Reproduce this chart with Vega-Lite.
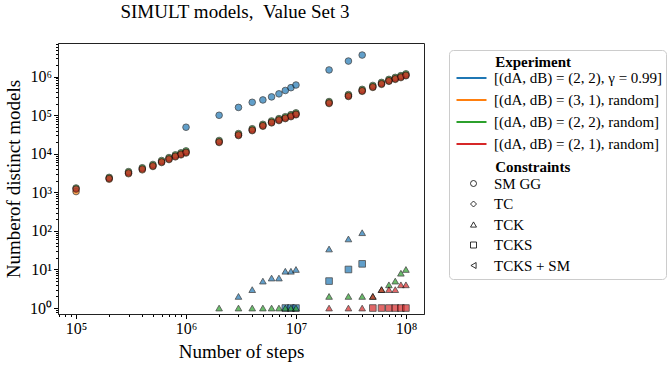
{
  "$schema": "https://vega.github.io/schema/vega-lite/v6.json",
  "width": 366,
  "height": 271,
  "autosize": {"type": "none"},
  "padding": {"left": 58, "top": 43, "right": 248, "bottom": 53},
  "title": {"text": "SIMULT models, \u00a0Value Set 3", "fontSize": 19, "fontWeight": "normal", "anchor": "middle", "offset": 14, "dx": -6, "color": "black"},
  "config": {
    "font": "Liberation Serif",
    "view": {"stroke": "#222", "strokeWidth": 1}
  },
  "data": {"values": [
    {"s": 1e6, "e": "A", "c": "SM GG", "n": 49000},
    {"s": 2e6, "e": "A", "c": "SM GG", "n": 100000},
    {"s": 3e6, "e": "A", "c": "SM GG", "n": 160000},
    {"s": 4e6, "e": "A", "c": "SM GG", "n": 217000},
    {"s": 5e6, "e": "A", "c": "SM GG", "n": 250000},
    {"s": 6e6, "e": "A", "c": "SM GG", "n": 300000},
    {"s": 7e6, "e": "A", "c": "SM GG", "n": 360000},
    {"s": 8e6, "e": "A", "c": "SM GG", "n": 440000},
    {"s": 9e6, "e": "A", "c": "SM GG", "n": 520000},
    {"s": 1e7, "e": "A", "c": "SM GG", "n": 610000},
    {"s": 2e7, "e": "A", "c": "SM GG", "n": 1500000},
    {"s": 3e7, "e": "A", "c": "SM GG", "n": 2550000},
    {"s": 4e7, "e": "A", "c": "SM GG", "n": 3650000},
    {"s": 3e6, "e": "A", "c": "TCK", "n": 2},
    {"s": 4e6, "e": "A", "c": "TCK", "n": 3},
    {"s": 5e6, "e": "A", "c": "TCK", "n": 5},
    {"s": 6e6, "e": "A", "c": "TCK", "n": 6},
    {"s": 7e6, "e": "A", "c": "TCK", "n": 6},
    {"s": 8e6, "e": "A", "c": "TCK", "n": 9},
    {"s": 9e6, "e": "A", "c": "TCK", "n": 9},
    {"s": 1e7, "e": "A", "c": "TCK", "n": 10},
    {"s": 2e7, "e": "A", "c": "TCK", "n": 34},
    {"s": 3e7, "e": "A", "c": "TCK", "n": 62},
    {"s": 4e7, "e": "A", "c": "TCK", "n": 90},
    {"s": 8e6, "e": "A", "c": "TCKS", "n": 1},
    {"s": 9e6, "e": "A", "c": "TCKS", "n": 1},
    {"s": 1e7, "e": "A", "c": "TCKS", "n": 1},
    {"s": 2e7, "e": "A", "c": "TCKS", "n": 5},
    {"s": 3e7, "e": "A", "c": "TCKS", "n": 10},
    {"s": 4e7, "e": "A", "c": "TCKS", "n": 14},

    {"s": 1e5, "e": "B", "c": "SM GG", "n": 1050},
    {"s": 2e5, "e": "B", "c": "SM GG", "n": 2200},
    {"s": 3e5, "e": "B", "c": "SM GG", "n": 3050},
    {"s": 4e5, "e": "B", "c": "SM GG", "n": 3850},
    {"s": 5e5, "e": "B", "c": "SM GG", "n": 4700},
    {"s": 6e5, "e": "B", "c": "SM GG", "n": 5950},
    {"s": 7e5, "e": "B", "c": "SM GG", "n": 7100},
    {"s": 8e5, "e": "B", "c": "SM GG", "n": 8350},
    {"s": 9e5, "e": "B", "c": "SM GG", "n": 9400},
    {"s": 1e6, "e": "B", "c": "SM GG", "n": 10500},
    {"s": 2e6, "e": "B", "c": "SM GG", "n": 19700},
    {"s": 3e6, "e": "B", "c": "SM GG", "n": 29800},
    {"s": 4e6, "e": "B", "c": "SM GG", "n": 40000},
    {"s": 5e6, "e": "B", "c": "SM GG", "n": 52000},
    {"s": 6e6, "e": "B", "c": "SM GG", "n": 63500},
    {"s": 7e6, "e": "B", "c": "SM GG", "n": 73000},
    {"s": 8e6, "e": "B", "c": "SM GG", "n": 82000},
    {"s": 9e6, "e": "B", "c": "SM GG", "n": 92000},
    {"s": 1e7, "e": "B", "c": "SM GG", "n": 103000},
    {"s": 2e7, "e": "B", "c": "SM GG", "n": 202000},
    {"s": 3e7, "e": "B", "c": "SM GG", "n": 308000},
    {"s": 4e7, "e": "B", "c": "SM GG", "n": 418000},
    {"s": 5e7, "e": "B", "c": "SM GG", "n": 528000},
    {"s": 6e7, "e": "B", "c": "SM GG", "n": 635000},
    {"s": 7e7, "e": "B", "c": "SM GG", "n": 760000},
    {"s": 8e7, "e": "B", "c": "SM GG", "n": 855000},
    {"s": 9e7, "e": "B", "c": "SM GG", "n": 950000},
    {"s": 1e8, "e": "B", "c": "SM GG", "n": 1060000},

    {"s": 1e5, "e": "C", "c": "SM GG", "n": 1300},
    {"s": 2e5, "e": "C", "c": "SM GG", "n": 2450},
    {"s": 3e5, "e": "C", "c": "SM GG", "n": 3450},
    {"s": 4e5, "e": "C", "c": "SM GG", "n": 4350},
    {"s": 5e5, "e": "C", "c": "SM GG", "n": 5300},
    {"s": 6e5, "e": "C", "c": "SM GG", "n": 6700},
    {"s": 7e5, "e": "C", "c": "SM GG", "n": 8000},
    {"s": 8e5, "e": "C", "c": "SM GG", "n": 9400},
    {"s": 9e5, "e": "C", "c": "SM GG", "n": 10600},
    {"s": 1e6, "e": "C", "c": "SM GG", "n": 11900},
    {"s": 2e6, "e": "C", "c": "SM GG", "n": 22200},
    {"s": 3e6, "e": "C", "c": "SM GG", "n": 33500},
    {"s": 4e6, "e": "C", "c": "SM GG", "n": 44800},
    {"s": 5e6, "e": "C", "c": "SM GG", "n": 58300},
    {"s": 6e6, "e": "C", "c": "SM GG", "n": 71300},
    {"s": 7e6, "e": "C", "c": "SM GG", "n": 82000},
    {"s": 8e6, "e": "C", "c": "SM GG", "n": 91800},
    {"s": 9e6, "e": "C", "c": "SM GG", "n": 103700},
    {"s": 1e7, "e": "C", "c": "SM GG", "n": 115600},
    {"s": 2e7, "e": "C", "c": "SM GG", "n": 227000},
    {"s": 3e7, "e": "C", "c": "SM GG", "n": 345600},
    {"s": 4e7, "e": "C", "c": "SM GG", "n": 470000},
    {"s": 5e7, "e": "C", "c": "SM GG", "n": 594000},
    {"s": 6e7, "e": "C", "c": "SM GG", "n": 713000},
    {"s": 7e7, "e": "C", "c": "SM GG", "n": 853000},
    {"s": 8e7, "e": "C", "c": "SM GG", "n": 961000},
    {"s": 9e7, "e": "C", "c": "SM GG", "n": 1069000},
    {"s": 1e8, "e": "C", "c": "SM GG", "n": 1188000},
    {"s": 2e6, "e": "C", "c": "TCK", "n": 1},
    {"s": 3e6, "e": "C", "c": "TCK", "n": 1},
    {"s": 4e6, "e": "C", "c": "TCK", "n": 1},
    {"s": 5e6, "e": "C", "c": "TCK", "n": 1},
    {"s": 6e6, "e": "C", "c": "TCK", "n": 1},
    {"s": 7e6, "e": "C", "c": "TCK", "n": 1},
    {"s": 8e6, "e": "C", "c": "TCK", "n": 1},
    {"s": 9e6, "e": "C", "c": "TCK", "n": 1},
    {"s": 1e7, "e": "C", "c": "TCK", "n": 1},
    {"s": 2e7, "e": "C", "c": "TCK", "n": 2},
    {"s": 3e7, "e": "C", "c": "TCK", "n": 2},
    {"s": 4e7, "e": "C", "c": "TCK", "n": 2},
    {"s": 5e7, "e": "C", "c": "TCK", "n": 2},
    {"s": 6e7, "e": "C", "c": "TCK", "n": 3},
    {"s": 7e7, "e": "C", "c": "TCK", "n": 4},
    {"s": 8e7, "e": "C", "c": "TCK", "n": 5},
    {"s": 9e7, "e": "C", "c": "TCK", "n": 8},
    {"s": 1e8, "e": "C", "c": "TCK", "n": 10},

    {"s": 1e5, "e": "D", "c": "SM GG", "n": 1220},
    {"s": 2e5, "e": "D", "c": "SM GG", "n": 2300},
    {"s": 3e5, "e": "D", "c": "SM GG", "n": 3200},
    {"s": 4e5, "e": "D", "c": "SM GG", "n": 4050},
    {"s": 5e5, "e": "D", "c": "SM GG", "n": 4900},
    {"s": 6e5, "e": "D", "c": "SM GG", "n": 6200},
    {"s": 7e5, "e": "D", "c": "SM GG", "n": 7400},
    {"s": 8e5, "e": "D", "c": "SM GG", "n": 8700},
    {"s": 9e5, "e": "D", "c": "SM GG", "n": 9800},
    {"s": 1e6, "e": "D", "c": "SM GG", "n": 11000},
    {"s": 2e6, "e": "D", "c": "SM GG", "n": 20500},
    {"s": 3e6, "e": "D", "c": "SM GG", "n": 31000},
    {"s": 4e6, "e": "D", "c": "SM GG", "n": 41500},
    {"s": 5e6, "e": "D", "c": "SM GG", "n": 54000},
    {"s": 6e6, "e": "D", "c": "SM GG", "n": 66000},
    {"s": 7e6, "e": "D", "c": "SM GG", "n": 76000},
    {"s": 8e6, "e": "D", "c": "SM GG", "n": 85000},
    {"s": 9e6, "e": "D", "c": "SM GG", "n": 96000},
    {"s": 1e7, "e": "D", "c": "SM GG", "n": 107000},
    {"s": 2e7, "e": "D", "c": "SM GG", "n": 210000},
    {"s": 3e7, "e": "D", "c": "SM GG", "n": 320000},
    {"s": 4e7, "e": "D", "c": "SM GG", "n": 435000},
    {"s": 5e7, "e": "D", "c": "SM GG", "n": 550000},
    {"s": 6e7, "e": "D", "c": "SM GG", "n": 660000},
    {"s": 7e7, "e": "D", "c": "SM GG", "n": 790000},
    {"s": 8e7, "e": "D", "c": "SM GG", "n": 890000},
    {"s": 9e7, "e": "D", "c": "SM GG", "n": 990000},
    {"s": 1e8, "e": "D", "c": "SM GG", "n": 1100000},
    {"s": 2e7, "e": "D", "c": "TCK", "n": 1},
    {"s": 3e7, "e": "D", "c": "TCK", "n": 1},
    {"s": 4e7, "e": "D", "c": "TCK", "n": 1},
    {"s": 5e7, "e": "D", "c": "TCK", "n": 2},
    {"s": 6e7, "e": "D", "c": "TCK", "n": 3},
    {"s": 7e7, "e": "D", "c": "TCK", "n": 3},
    {"s": 8e7, "e": "D", "c": "TCK", "n": 3},
    {"s": 9e7, "e": "D", "c": "TCK", "n": 4},
    {"s": 1e8, "e": "D", "c": "TCK", "n": 4},
    {"s": 5e7, "e": "D", "c": "TCKS", "n": 1},
    {"s": 6e7, "e": "D", "c": "TCKS", "n": 1},
    {"s": 7e7, "e": "D", "c": "TCKS", "n": 1},
    {"s": 8e7, "e": "D", "c": "TCKS", "n": 1},
    {"s": 9e7, "e": "D", "c": "TCKS", "n": 1},
    {"s": 1e8, "e": "D", "c": "TCKS", "n": 1}
  ]},
  "mark": {"type": "point", "filled": true, "opacity": 0.7, "stroke": "black", "strokeWidth": 0.8, "size": 44},
  "encoding": {
    "x": {
      "field": "s", "type": "quantitative",
      "scale": {"type": "log", "domain": [68500, 146000000], "nice": false},
      "axis": {
        "title": "Number of steps", "titleFontSize": 19, "titleFontWeight": "normal", "titleColor": "black", "titlePadding": 6,
        "values": [70000, 80000, 90000, 100000, 200000, 300000, 400000, 500000, 600000, 700000, 800000, 900000, 1000000, 2000000, 3000000, 4000000, 5000000, 6000000, 7000000, 8000000, 9000000, 10000000, 20000000, 30000000, 40000000, 50000000, 60000000, 70000000, 80000000, 90000000, 100000000],
        "labelExpr": "datum.value==1e5?'10⁵':datum.value==1e6?'10⁶':datum.value==1e7?'10⁷':datum.value==1e8?'10⁸':''",
        "labelOverlap": false, "labelFontSize": 16, "labelColor": "black", "labelPadding": 2, "labelFlush": false,
        "tickSize": {"condition": {"test": "datum.value==1e5||datum.value==1e6||datum.value==1e7||datum.value==1e8", "value": 4.5}, "value": 2.5},
        "tickColor": "black", "domainColor": "#222", "grid": false
      }
    },
    "y": {
      "field": "n", "type": "quantitative",
      "scale": {"type": "log", "domain": [0.7, 7500000], "nice": false},
      "axis": {
        "title": "Numberof distinct models", "titleFontSize": 19, "titleFontWeight": "normal", "titleColor": "black", "titlePadding": 6,
        "values": [0.8, 0.9, 1, 2, 3, 4, 5, 6, 7, 8, 9, 10, 20, 30, 40, 50, 60, 70, 80, 90, 100, 200, 300, 400, 500, 600, 700, 800, 900, 1000, 2000, 3000, 4000, 5000, 6000, 7000, 8000, 9000, 10000, 20000, 30000, 40000, 50000, 60000, 70000, 80000, 90000, 100000, 200000, 300000, 400000, 500000, 600000, 700000, 800000, 900000, 1000000, 2000000, 3000000, 4000000, 5000000, 6000000, 7000000],
        "labelExpr": "datum.value==1?'10⁰':datum.value==10?'10¹':datum.value==100?'10²':datum.value==1000?'10³':datum.value==10000?'10⁴':datum.value==100000?'10⁵':datum.value==1000000?'10⁶':''",
        "labelOverlap": false, "labelFontSize": 16, "labelColor": "black", "labelPadding": 2, "labelFlush": false,
        "tickSize": {"condition": {"test": "datum.value==1||datum.value==10||datum.value==100||datum.value==1000||datum.value==10000||datum.value==100000||datum.value==1000000", "value": 4.5}, "value": 2.5},
        "tickColor": "black", "domainColor": "#222", "grid": false
      }
    },
    "color": {
      "field": "e", "type": "nominal",
      "scale": {"domain": ["A", "B", "C", "D"], "range": ["#1f77b4", "#ff7f0e", "#2ca02c", "#d62728"]},
      "legend": {
        "title": "\u200b\u00a0\u00a0\u00a0\u00a0\u00a0\u00a0\u00a0\u00a0\u00a0\u00a0\u00a0Experiment",
        "titleFontSize": 15, "titleFontWeight": "bold", "titleColor": "black", "titleLimit": 300, "titlePadding": 0.5,
        "orient": "none", "legendX": 391, "legendY": 7, "padding": 5,
        "symbolType": "M-5,-0.33H5V0.33H-5Z", "symbolSize": 36, "symbolStrokeWidth": 0, "symbolOpacity": 1, "symbolOffset": 10,
        "labelOffset": 15, "labelFontSize": 15, "labelColor": "black", "labelLimit": 300, "rowPadding": 6,
        "labelExpr": "datum.value=='A' ? '[(dA, dB) = (2, 2), γ = 0.99]' : datum.value=='B' ? '[(dA, dB) = (3, 1), random]' : datum.value=='C' ? '[(dA, dB) = (2, 2), random]' : '[(dA, dB) = (2, 1), random]'"
      }
    },
    "shape": {
      "field": "c", "type": "nominal",
      "scale": {"domain": ["SM GG", "TC", "TCK", "TCKS", "TCKS + SM"], "range": ["circle", "diamond", "triangle-up", "square", "triangle-left"]},
      "legend": {
        "title": ["\u200b", "\u200b\u00a0\u00a0\u00a0\u00a0\u00a0\u00a0\u00a0\u00a0\u00a0\u00a0\u00a0Constraints\u00a0\u00a0\u00a0\u00a0\u00a0\u00a0\u00a0\u00a0\u00a0\u00a0\u00a0\u00a0\u00a0\u00a0\u00a0\u00a0\u00a0\u00a0\u00a0\u00a0\u00a0\u00a0\u00a0\u00a0\u200b"],
        "titleFontSize": 15, "titleFontWeight": "bold", "titleColor": "black", "titleLimit": 400, "titleLineHeight": 105, "titlePadding": 1,
        "orient": "none", "legendX": 391, "legendY": 7, "padding": 5,
        "strokeColor": "#cccccc", "cornerRadius": 4,
        "symbolSize": 36, "symbolFillColor": "transparent", "symbolStrokeColor": "black", "symbolStrokeWidth": 0.8, "symbolOpacity": 1, "symbolOffset": 12,
        "labelOffset": 13, "labelFontSize": 15, "labelColor": "black", "labelLimit": 300, "rowPadding": 4.5
      }
    }
  }
}
